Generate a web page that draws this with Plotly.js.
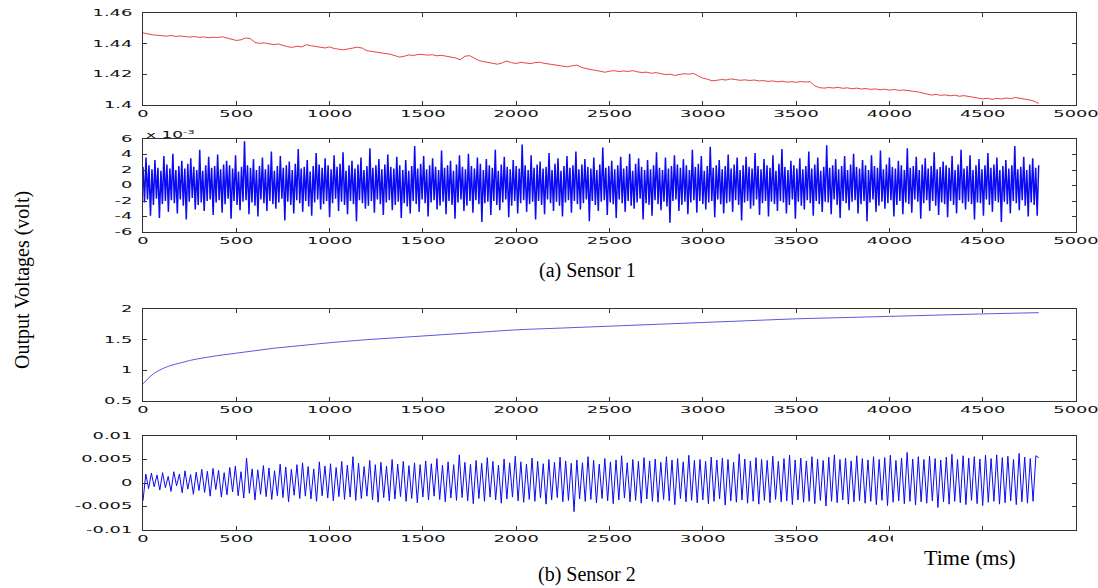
<!DOCTYPE html>
<html>
<head>
<meta charset="utf-8">
<script src="https://cdn.plot.ly/plotly-3.0.1.min.js"></script>
<style>
  html, body { margin: 0; padding: 0; background: #ffffff; }
  #chart { width: 1098px; height: 588px; }
</style>
</head>
<body>
<div id="chart"></div>
<script>
// ---------------- DATA ----------------
// Shared time ticks (ms)
const timeTicks = [0, 500, 1000, 1500, 2000, 2500, 3000, 3500, 4000, 4500, 5000];

// Sensor 1, raw output (volt), one sample every 25 ms from 0 to 4800 ms
const sensor1StepMs = 25;
const sensor1Raw = [
  1.4470,1.4462,1.4458,1.4455,1.4452,1.4449,1.4453,1.4447,1.4450,1.4446,
  1.4443,1.4447,1.4441,1.4444,1.4439,1.4442,1.4440,1.4445,1.4436,1.4430,
  1.4421,1.4425,1.4437,1.4433,1.4408,1.4402,1.4405,1.4399,1.4394,1.4398,
  1.4388,1.4380,1.4376,1.4383,1.4379,1.4393,1.4387,1.4381,1.4375,1.4372,
  1.4379,1.4368,1.4364,1.4360,1.4366,1.4373,1.4377,1.4371,1.4354,1.4350,
  1.4346,1.4340,1.4336,1.4331,1.4322,1.4312,1.4318,1.4327,1.4323,1.4330,
  1.4329,1.4325,1.4328,1.4321,1.4324,1.4319,1.4314,1.4307,1.4295,1.4318,
  1.4322,1.4305,1.4290,1.4283,1.4278,1.4270,1.4266,1.4275,1.4287,1.4276,
  1.4271,1.4278,1.4274,1.4270,1.4276,1.4279,1.4272,1.4268,1.4264,1.4258,
  1.4254,1.4249,1.4256,1.4260,1.4245,1.4236,1.4231,1.4226,1.4219,1.4214,
  1.4220,1.4224,1.4218,1.4222,1.4219,1.4224,1.4216,1.4212,1.4214,1.4207,
  1.4211,1.4203,1.4198,1.4201,1.4193,1.4199,1.4204,1.4201,1.4206,1.4190,
  1.4175,1.4168,1.4158,1.4161,1.4166,1.4163,1.4170,1.4166,1.4161,1.4164,
  1.4160,1.4163,1.4157,1.4159,1.4154,1.4157,1.4151,1.4155,1.4149,1.4152,
  1.4148,1.4153,1.4150,1.4152,1.4125,1.4113,1.4110,1.4114,1.4111,1.4115,
  1.4109,1.4112,1.4106,1.4110,1.4104,1.4107,1.4102,1.4105,1.4099,1.4103,
  1.4097,1.4101,1.4095,1.4098,1.4092,1.4090,1.4086,1.4078,1.4068,1.4065,
  1.4069,1.4063,1.4066,1.4060,1.4064,1.4057,1.4061,1.4055,1.4050,1.4046,
  1.4040,1.4044,1.4037,1.4043,1.4039,1.4046,1.4041,1.4049,1.4045,1.4040,
  1.4033,1.4025,1.4010
];
const sensor1RawTicks = [1.4, 1.42, 1.44, 1.46];

// Sensor 1, fluctuation (units of 1e-3 volt), one sample every 8 ms
const sensor1NoiseStepMs = 8;
const sensor1Noise = [
  2.4,-2.2,3.6,-1.8,2.6,-3.9,2.1,-2.5,3.3,-1.7,2.3,-4.2,1.9,-2.4,3.8,-2.0,2.7,-3.4,2.2,-1.9,
  4.1,-2.3,2.0,-3.6,2.5,-1.8,3.2,-2.6,2.2,-4.4,2.8,-2.1,3.5,-1.6,2.4,-3.1,2.0,-2.5,4.6,-2.2,
  1.9,-3.3,2.6,-2.0,3.7,-1.8,2.3,-3.8,2.5,-2.2,4.0,-1.9,2.1,-3.5,2.7,-2.4,3.2,-1.7,2.6,-4.3,
  2.2,-2.0,3.9,-2.5,1.8,-3.2,2.4,-2.1,5.7,-1.9,2.6,-3.7,2.3,-2.2,3.4,-2.6,2.0,-4.0,2.5,-1.8,
  3.6,-2.3,2.1,-3.3,2.7,-2.0,4.4,-2.4,1.9,-3.0,2.5,-2.2,3.8,-1.7,2.3,-4.5,2.6,-2.1,3.1,-2.5,
  2.0,-3.6,2.8,-1.9,4.7,-2.3,2.2,-3.4,2.4,-2.0,3.3,-2.7,1.8,-3.9,2.5,-2.2,4.2,-1.8,2.7,-3.1,
  2.3,-2.4,3.5,-2.0,2.6,-4.1,2.1,-2.3,3.9,-1.7,2.4,-3.3,2.8,-2.1,4.3,-2.5,1.9,-3.7,2.6,-2.0,
  3.2,-2.4,2.2,-4.6,2.7,-1.9,3.6,-2.3,2.0,-3.0,2.5,-2.6,4.8,-2.0,2.3,-3.5,2.6,-1.8,3.4,-2.4,
  2.1,-3.8,2.7,-2.2,4.0,-1.9,2.4,-3.2,2.2,-2.5,3.7,-2.1,2.6,-4.2,2.0,-2.3,3.3,-2.7,1.9,-3.6,
  2.5,-2.0,5.1,-2.4,2.2,-3.4,2.8,-1.8,3.8,-2.3,2.1,-4.0,2.6,-2.2,3.5,-1.9,2.4,-3.1,2.0,-2.6,
  4.5,-2.1,2.3,-3.7,2.6,-2.0,3.2,-2.5,1.9,-4.3,2.7,-2.2,3.9,-1.8,2.4,-3.3,2.1,-2.6,4.1,-2.0,
  2.5,-3.5,2.2,-1.9,3.6,-2.4,2.8,-4.7,2.0,-2.3,3.4,-2.1,2.6,-3.8,2.3,-2.0,4.6,-2.5,1.9,-3.2,
  2.7,-2.2,3.7,-1.8,2.4,-4.1,2.1,-2.6,3.3,-2.0,2.5,-3.6,2.2,-2.3,5.3,-1.9,2.6,-3.4,2.0,-2.4,
  3.9,-2.1,2.3,-4.4,2.7,-2.0,3.1,-2.5,2.2,-3.7,2.4,-1.8,4.2,-2.3,2.0,-3.3,2.8,-2.1,3.5,-2.6,
  1.9,-4.0,2.5,-2.2,3.8,-1.9,2.3,-3.5,2.6,-2.0,4.4,-2.4,2.1,-3.1,2.7,-2.3,3.4,-1.8,2.4,-4.6,
  2.2,-2.0,3.6,-2.5,2.0,-3.3,2.7,-2.1,4.9,-1.9,2.3,-3.8,2.5,-2.2,3.2,-2.4,2.1,-4.2,2.6,-1.8,
  3.7,-2.3,2.2,-3.4,2.5,-2.0,4.1,-2.6,1.9,-3.0,2.8,-2.2,3.5,-1.7,2.4,-4.4,2.0,-2.3,3.3,-2.5,
  2.1,-3.9,2.6,-1.9,4.3,-2.4,2.3,-3.2,2.0,-2.1,3.6,-2.7,2.2,-4.8,2.5,-2.0,3.9,-1.8,2.7,-3.3,
  2.3,-2.5,3.4,-2.1,2.6,-3.7,2.0,-2.2,4.6,-1.9,2.4,-3.5,2.8,-2.0,3.8,-2.4,1.9,-3.1,2.5,-2.2,
  5.0,-2.0,2.3,-4.1,2.6,-1.8,3.3,-2.4,2.1,-3.6,2.5,-2.3,4.0,-2.1,2.2,-3.4,2.7,-1.9,3.6,-2.5,
  2.0,-4.5,2.6,-2.2,3.7,-2.0,2.4,-3.0,2.2,-2.6,4.2,-1.8,2.5,-3.8,2.1,-2.3,3.4,-2.0,2.6,-4.0,
  2.3,-2.1,3.9,-2.4,1.9,-3.3,2.8,-2.0,4.7,-2.2,2.4,-3.6,2.0,-2.5,3.2,-1.8,2.6,-4.3,2.2,-2.1,
  3.5,-2.6,2.1,-3.1,2.5,-1.9,4.4,-2.3,2.2,-3.9,2.7,-2.0,3.6,-2.4,1.9,-3.4,2.4,-2.1,5.2,-2.2,
  2.3,-3.7,2.6,-1.8,3.4,-2.5,2.1,-4.2,2.5,-2.0,3.8,-2.3,2.0,-3.2,2.7,-2.1,4.1,-1.9,2.4,-3.6,
  2.2,-2.4,3.3,-2.0,2.6,-4.6,2.0,-2.2,3.9,-1.8,2.5,-3.4,2.3,-2.6,4.5,-2.1,2.1,-3.0,2.7,-2.3,
  3.6,-1.9,2.4,-4.0,2.2,-2.5,3.2,-2.0,2.6,-3.7,2.0,-2.2,4.8,-2.4,2.3,-3.5,2.5,-1.8,3.7,-2.1,
  2.0,-4.3,2.7,-2.3,3.5,-1.9,2.2,-3.3,2.5,-2.0,4.3,-2.6,2.1,-3.8,2.4,-2.2,3.1,-2.4,2.6,-4.1,
  2.3,-2.0,3.8,-2.5,2.0,-3.6,2.7,-1.9,4.6,-2.3,2.2,-3.1,2.5,-2.1,3.9,-2.4,2.0,-4.4,2.6,-2.2,
  3.4,-2.3,2.1,-3.9,2.6,-1.8,4.2,-2.5,2.3,-3.4,2.7,-2.0,3.6,-2.2,2.0,-4.7,2.5,-2.1,3.3,-2.4,
  2.2,-3.6,2.6,-2.0,5.1,-2.3,2.1,-3.2,2.4,-1.9,3.7,-2.6,2.0,-4.0,2.7,-2.2,3.5,-2.5,2.3,-3.9,
  2.6
];
const sensor1NoiseTicks = [-6, -4, -2, 0, 2, 4, 6];
const sensor1NoiseTickText = ['-6', '-4', '-2', '0', '2', '4', '6'];

// Sensor 2, raw output (volt)
const sensor2Time = [0, 25, 50, 75, 100, 150, 200, 250, 300, 400, 500, 600, 700, 800, 900, 1000,
  1200, 1400, 1600, 1800, 2000, 2250, 2500, 2750, 3000, 3250, 3500, 3750, 4000, 4250, 4500, 4800];
const sensor2Raw = [0.78, 0.86, 0.93, 0.98, 1.02, 1.08, 1.12, 1.16, 1.19, 1.24, 1.28, 1.32, 1.36, 1.39, 1.42, 1.45,
  1.50, 1.54, 1.58, 1.62, 1.66, 1.69, 1.72, 1.75, 1.78, 1.81, 1.84, 1.86, 1.88, 1.90, 1.92, 1.94];
const sensor2RawTicks = [0.5, 1, 1.5, 2];
const sensor2RawTickText = ['0.5', '1', '1.5', '2'];

// Sensor 2, fluctuation (millivolt), one sample every 15 ms
const sensor2NoiseStepMs = 15;
const sensor2NoiseMilliVolt = [
  -3.8,1.9,-1.2,2.1,-0.8,1.7,-1.5,2.2,-1.0,1.4,-1.8,2.4,-0.6,1.9,-2.1,2.6,-1.3,1.8,-2.4,2.3,
  -1.6,2.9,-2.0,2.5,-2.8,3.1,-1.4,2.7,-3.0,2.2,-2.5,3.3,-1.9,3.6,-2.7,2.4,-3.2,5.3,-2.2,3.0,
  -3.6,2.8,-2.4,3.7,-2.9,3.2,-3.5,2.6,-2.7,4.0,-3.1,3.4,-4.0,2.9,-2.6,3.9,-3.3,4.3,-2.8,3.5,
  -3.4,3.0,-3.9,4.5,-2.7,3.6,-3.2,4.1,-3.8,3.3,-2.9,4.6,-3.5,3.8,-3.0,5.6,-3.7,4.2,-3.3,3.5,
  -2.8,4.8,-3.6,3.9,-4.1,4.4,-3.1,3.6,-3.8,5.0,-3.4,4.0,-2.9,4.6,-3.9,3.7,-3.3,4.3,-4.2,3.9,
  -3.0,4.7,-3.6,4.1,-2.8,5.2,-3.5,3.8,-4.0,4.5,-3.2,3.9,-3.7,6.0,-3.1,4.4,-3.8,4.0,-4.4,4.8,
  -3.3,4.2,-3.9,5.4,-3.0,4.6,-3.6,3.8,-4.3,5.1,-3.4,4.3,-3.0,5.7,-3.8,4.5,-4.1,4.0,-3.5,5.3,
  -3.9,4.6,-3.2,4.1,-4.5,5.0,-3.6,4.4,-3.1,5.5,-4.0,4.7,-3.7,4.2,-6.1,4.9,-3.4,4.3,-3.9,5.6,
  -3.5,4.8,-4.2,4.0,-3.3,5.2,-3.8,4.5,-4.4,4.9,-3.6,5.8,-3.2,4.3,-4.0,5.0,-3.7,4.6,-4.3,5.4,
  -3.4,4.7,-3.9,5.1,-4.1,4.4,-3.5,5.6,-3.8,4.9,-4.6,5.2,-3.3,4.5,-4.0,5.9,-3.7,4.8,-4.2,5.0,
  -3.6,4.6,-4.4,5.5,-3.9,4.9,-3.4,5.3,-4.7,5.0,-3.8,4.4,-4.1,6.2,-3.6,5.1,-4.3,4.7,-3.9,5.4,
  -4.5,5.0,-3.7,4.8,-4.2,5.7,-3.5,4.6,-4.0,5.2,-3.8,5.9,-4.6,4.9,-3.6,5.3,-4.1,4.7,-3.9,5.6,
  -4.4,5.1,-3.7,4.8,-4.9,5.5,-3.9,6.0,-4.2,5.0,-3.6,5.3,-4.5,4.7,-4.0,5.8,-3.8,5.2,-4.3,4.9,
  -3.9,5.6,-4.6,5.0,-3.7,5.4,-4.8,5.9,-4.1,4.8,-3.8,5.3,-4.4,6.5,-3.9,5.1,-4.7,5.6,-4.0,5.0,
  -4.3,5.7,-3.8,5.2,-5.2,4.9,-4.0,5.5,-4.5,6.1,-3.9,5.0,-4.2,5.8,-4.6,5.3,-3.7,5.6,-4.4,5.1,
  -4.8,5.9,-4.1,5.2,-3.9,6.0,-4.5,5.4,-4.2,5.7,-3.8,5.0,-4.6,6.3,-4.0,5.5,-4.3,5.2,-3.9,5.8,
  5.4
];
const sensor2NoiseTicks = [-0.01, -0.005, 0, 0.005, 0.01];
const sensor2NoiseTickText = ['-0.01', '-0.005', '0', '0.005', '0.01'];

// Text
const yTitleText = 'Output Voltages (volt)';
const caption1 = '(a) Sensor 1';
const caption2 = '(b) Sensor 2';
const xTitleText = 'Time (ms)';
const exponentText = 'x 10<sup>-3</sup>';

// ---------------- BUILD ----------------
const W = 1098, H = 588;
const px = x => x / W;
const py = y => 1 - y / H;

const timesFor = (arr, step) => arr.map((_, i) => i * step);

const traces = [
  { x: timesFor(sensor1Raw, sensor1StepMs), y: sensor1Raw, xaxis: 'x', yaxis: 'y',
    type: 'scatter', mode: 'lines', line: { color: 'rgb(225,20,20)', width: 0.8 } },
  { x: timesFor(sensor1Noise, sensor1NoiseStepMs), y: sensor1Noise, xaxis: 'x2', yaxis: 'y2',
    type: 'scatter', mode: 'lines', line: { color: 'rgb(10,10,245)', width: 1.5 } },
  { x: sensor2Time, y: sensor2Raw, xaxis: 'x3', yaxis: 'y3',
    type: 'scatter', mode: 'lines', line: { color: 'rgb(70,70,220)', width: 0.9, shape: 'spline' } },
  { x: timesFor(sensor2NoiseMilliVolt, sensor2NoiseStepMs), y: sensor2NoiseMilliVolt.map(v => v / 1000),
    xaxis: 'x4', yaxis: 'y4',
    type: 'scatter', mode: 'lines', line: { color: 'rgb(10,10,240)', width: 1 } }
];

const tickFont = { family: 'DejaVu Sans', size: 8.5, color: '#111' };
const baseAxis = {
  showline: true, linecolor: '#333', linewidth: 1, mirror: 'ticks',
  ticks: 'inside', ticklen: 4, tickcolor: '#333', tickwidth: 1,
  showgrid: false, zeroline: false, tickfont: tickFont, fixedrange: true
};
const xDomain = [px(143), px(1076)];
const xAxis = (anchor) => Object.assign({}, baseAxis, {
  domain: xDomain, anchor: anchor, range: [0, 5000], tickmode: 'array',
  tickvals: timeTicks, ticktext: timeTicks.map(String), ticklabelstandoff: 1
});
const yAxis = (anchor, top, bottom, range, vals, text) => Object.assign({}, baseAxis, {
  domain: [py(bottom), py(top)], anchor: anchor, range: range, tickmode: 'array',
  tickvals: vals, ticktext: text, ticklabelstandoff: 8
});

const layout = {
  width: W, height: H,
  margin: { l: 0, r: 0, t: 0, b: 0 },
  paper_bgcolor: '#ffffff', plot_bgcolor: '#ffffff',
  showlegend: false, hovermode: false,
  xaxis: xAxis('y'),
  yaxis: yAxis('x', 13, 105, [1.4, 1.46], sensor1RawTicks, sensor1RawTicks.map(String)),
  xaxis2: xAxis('y2'),
  yaxis2: yAxis('x2', 139, 232, [-6, 6], sensor1NoiseTicks, sensor1NoiseTickText),
  xaxis3: xAxis('y3'),
  yaxis3: yAxis('x3', 309, 401, [0.5, 2], sensor2RawTicks, sensor2RawTickText),
  xaxis4: xAxis('y4'),
  yaxis4: yAxis('x4', 436, 530, [-0.01, 0.01], sensor2NoiseTicks, sensor2NoiseTickText),
  shapes: [
    { type: 'rect', xref: 'paper', yref: 'paper', layer: 'above',
      x0: px(893), x1: 1, y0: 0, y1: py(535),
      fillcolor: '#ffffff', line: { width: 0 } }
  ],
  annotations: [
    { text: exponentText, xref: 'paper', yref: 'paper', x: px(144), y: py(134),
      xanchor: 'left', yanchor: 'middle', showarrow: false,
      font: { family: 'DejaVu Sans', size: 8.5, color: '#111' } },
    { text: yTitleText, xref: 'paper', yref: 'paper', x: px(22), y: py(280),
      xanchor: 'center', yanchor: 'middle', showarrow: false, textangle: -90,
      font: { family: 'Liberation Serif', size: 20, color: '#000' } },
    { text: caption1, xref: 'paper', yref: 'paper', x: px(587), y: py(270),
      xanchor: 'center', yanchor: 'middle', showarrow: false,
      font: { family: 'Liberation Serif', size: 20, color: '#000' } },
    { text: xTitleText, xref: 'paper', yref: 'paper', x: px(969), y: py(557),
      xanchor: 'center', yanchor: 'middle', showarrow: false,
      font: { family: 'Liberation Serif', size: 22, color: '#000' } },
    { text: caption2, xref: 'paper', yref: 'paper', x: px(587), y: py(574),
      xanchor: 'center', yanchor: 'middle', showarrow: false,
      font: { family: 'Liberation Serif', size: 20, color: '#000' } }
  ]
};

// Horizontal stretch of the small tick labels (the source figure is stretched sideways)
function stretch(el, s, mode) {
  const cur = el.getAttribute('transform') || '';
  if (el.__stretchedT !== undefined && el.__stretchedT === cur) return;
  const bb = el.getBBox();
  let cx = bb.x + bb.width / 2;
  if (mode === 'left') cx = bb.x;
  if (mode === 'right') cx = bb.x + bb.width;
  const next = cur + ' translate(' + cx + ',0) scale(' + s + ',1) translate(' + (-cx) + ',0)';
  el.setAttribute('transform', next);
  el.__stretchedT = el.getAttribute('transform');
}
function applyStretch(gd) {
  gd.querySelectorAll('.xaxislayer-above text').forEach(t => stretch(t, 2.1, 'center'));
  gd.querySelectorAll('.yaxislayer-above text').forEach(t => stretch(t, 2.1, 'right'));
  gd.querySelectorAll('.annotation-text').forEach(t => {
    if (t.textContent.indexOf('x 10') === 0) stretch(t, 2.0, 'left');
  });
}

Plotly.newPlot('chart', traces, layout, { staticPlot: true, displayModeBar: false }).then(gd => {
  applyStretch(gd);
  gd.on('plotly_afterplot', () => applyStretch(gd));
  setTimeout(() => applyStretch(gd), 30);
  setTimeout(() => applyStretch(gd), 200);
});
</script>
</body>
</html>
